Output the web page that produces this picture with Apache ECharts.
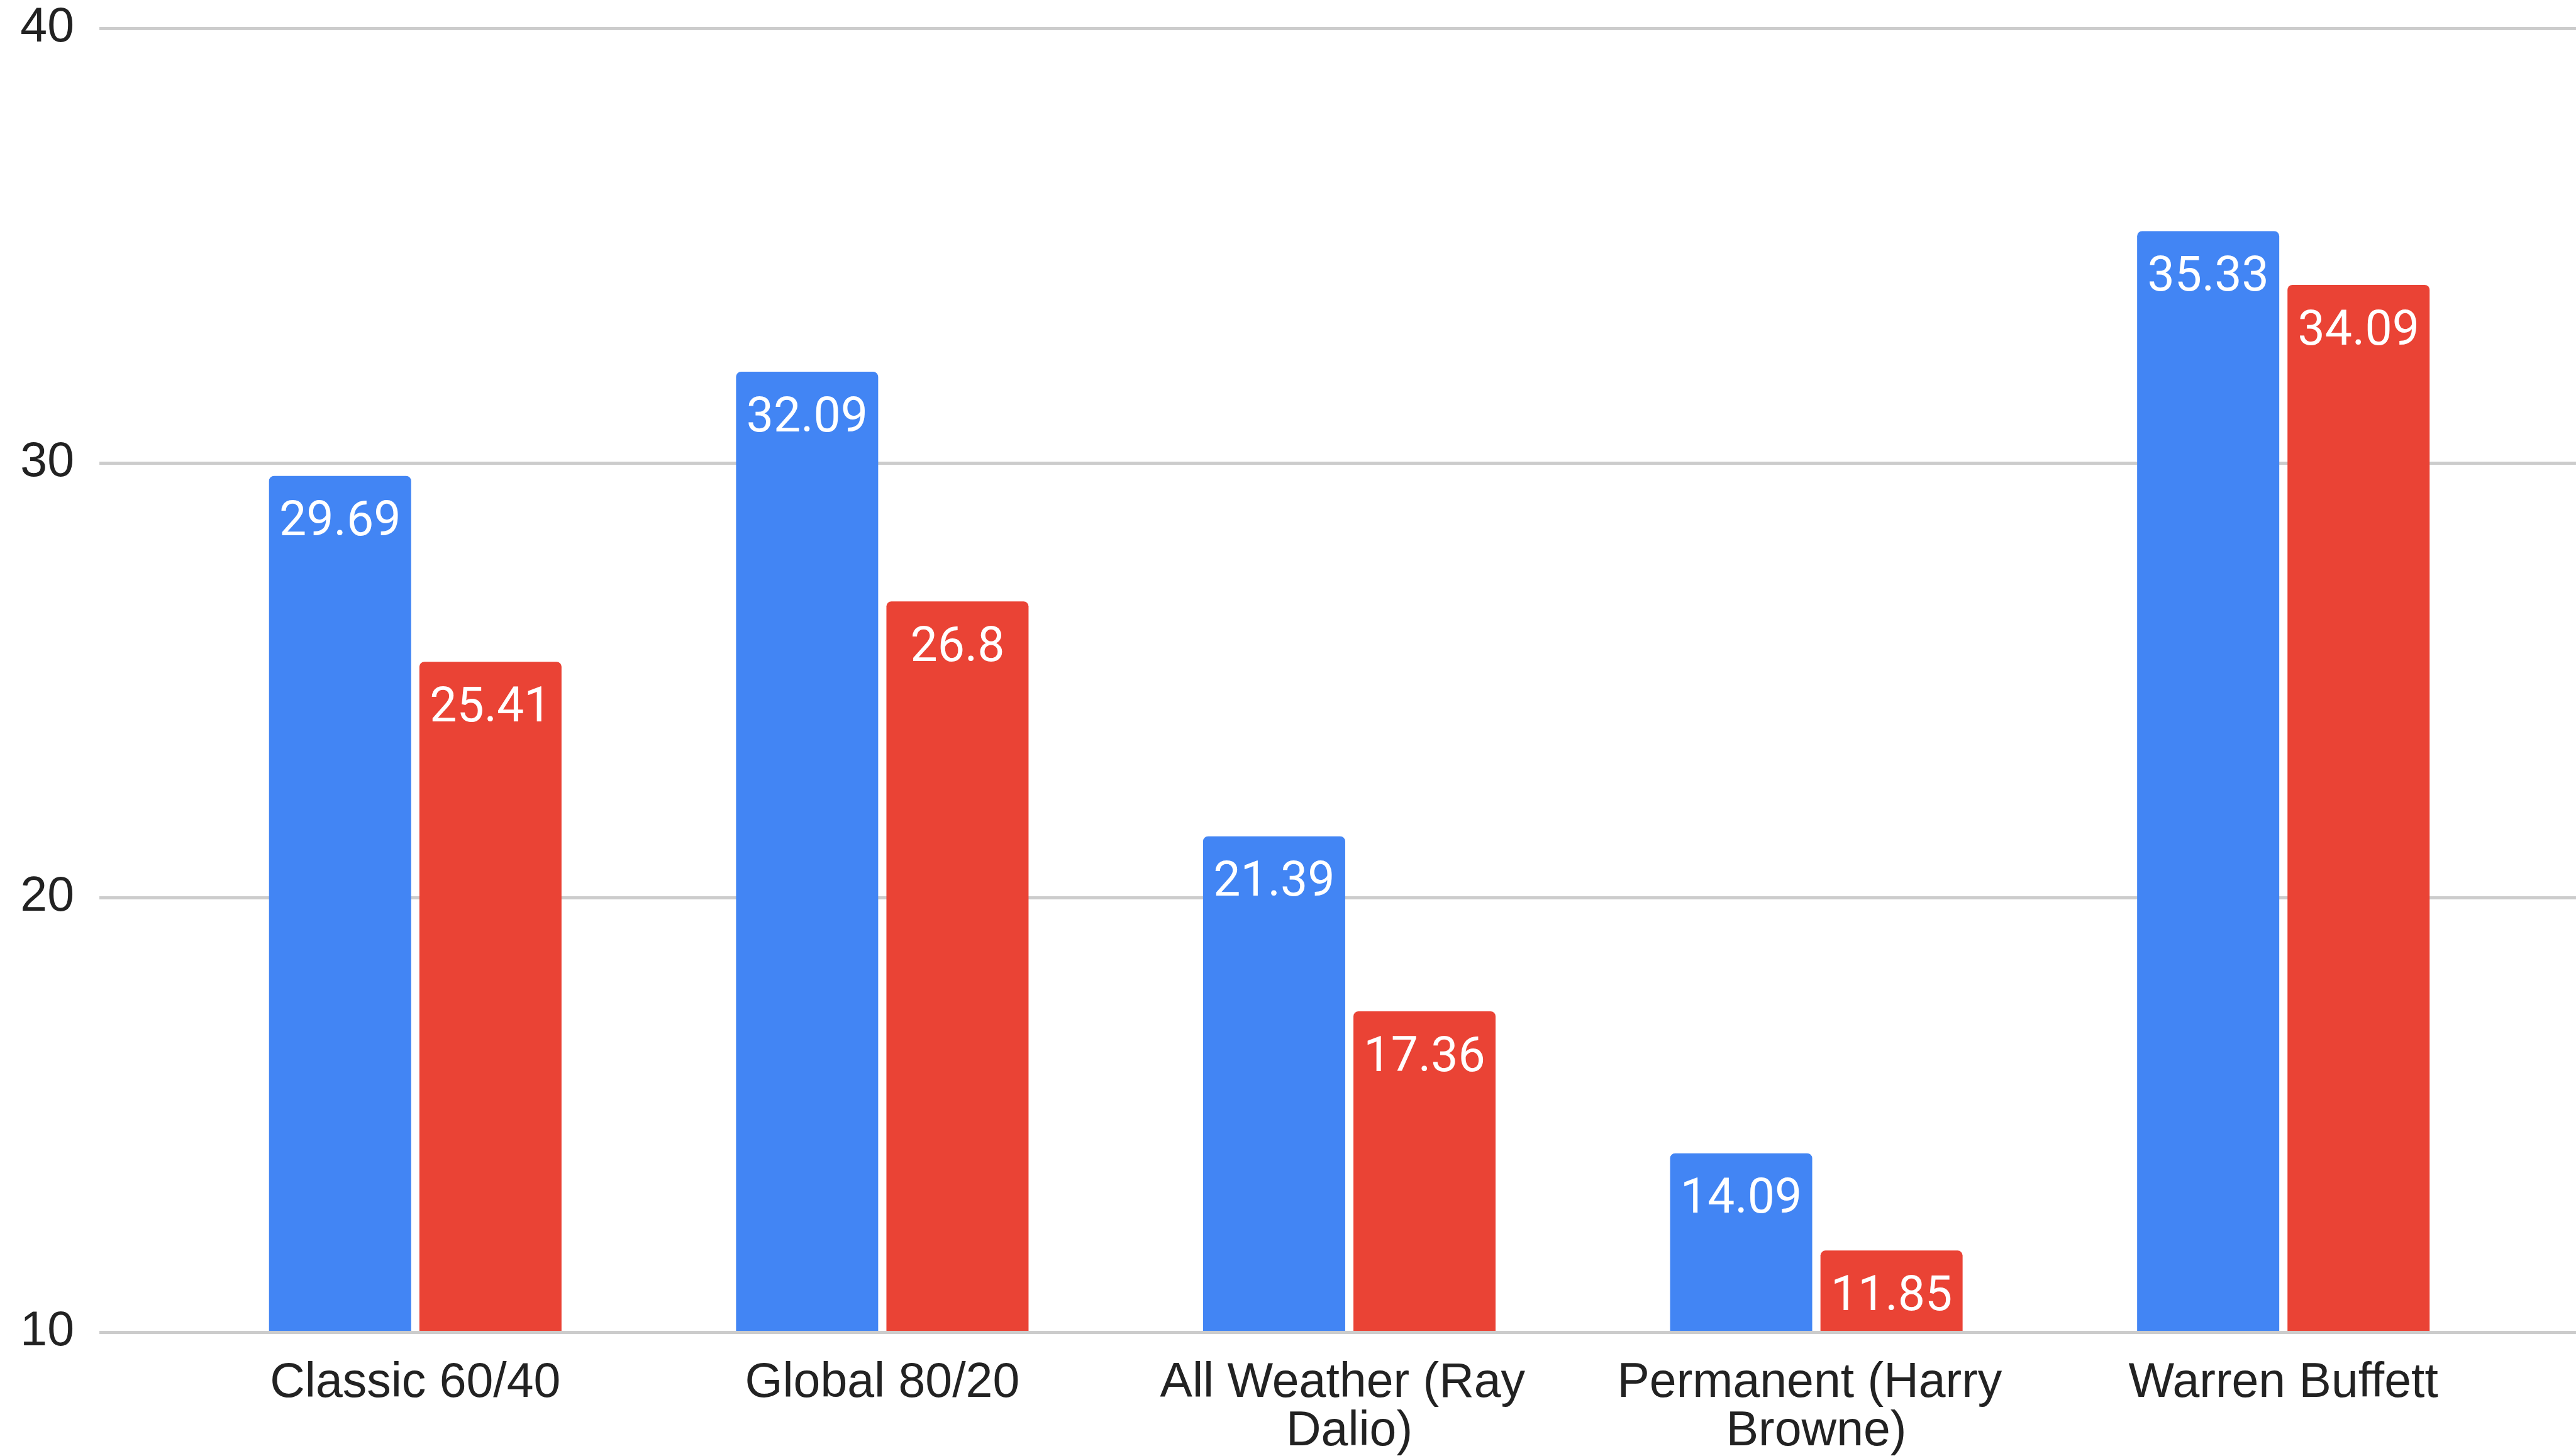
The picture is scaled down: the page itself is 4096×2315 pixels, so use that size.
<!DOCTYPE html>
<html>
<head>
<meta charset="utf-8">
<script src="https://cdn.jsdelivr.net/npm/echarts@6/dist/echarts.min.js"></script>
<style>
  html, body { margin: 0; padding: 0; background: #fff; }
  #chart { width: 4096px; height: 2315px; }
</style>
</head>
<body>
<div id="chart"></div>
<script>
// portfolio names along the bottom
var categories = ['Classic 60/40', 'Global 80/20', 'All Weather (Ray Dalio)', 'Permanent (Harry Browne)', 'Warren Buffett']
// blue and red series
var seriesA = [29.69, 32.09, 21.39, 14.09, 35.33]
var seriesB = [25.41, 26.8, 17.36, 11.85, 34.09]
// value axis ticks
var yTicks = [10, 20, 30, 40]

var axisFont = '"Liberation Sans", Arial, sans-serif'
var labelFont = 'Roboto, "Noto Sans", sans-serif'

var gridTop = 45
var gridBottom = 197

var barLabel = {
  show: true,
  position: 'insideTop',
  distance: 37,
  color: '#ffffff',
  fontFamily: labelFont,
  fontSize: 77
}

var option = {
  animation: false,
  backgroundColor: '#ffffff',
  grid: [
    // wide grid that carries the gridlines and y labels
    { left: 158, right: 0, top: gridTop, bottom: gridBottom },
    // narrower grid for the category bands
    { left: 289, width: 3713, top: gridTop, bottom: gridBottom }
  ],
  xAxis: [
    { type: 'value', gridIndex: 0, show: false, min: 0, max: 1 },
    {
      type: 'category',
      gridIndex: 1,
      data: categories,
      axisLine: { show: false },
      axisTick: { show: false },
      axisLabel: {
        color: '#222222',
        fontFamily: axisFont,
        fontSize: 77,
        lineHeight: 77,
        margin: 45,
        width: 700,
        overflow: 'break',
        interval: 0
      }
    }
  ],
  yAxis: [
    {
      type: 'value',
      gridIndex: 0,
      min: yTicks[0],
      max: yTicks[yTicks.length - 1],
      interval: 10,
      axisLine: { show: false },
      axisTick: { show: false },
      axisLabel: {
        color: '#222222',
        fontFamily: axisFont,
        fontSize: 77,
        margin: 40
      },
      splitLine: { lineStyle: { color: '#cccccc', width: 5 } }
    },
    {
      type: 'value',
      gridIndex: 1,
      min: yTicks[0],
      max: yTicks[yTicks.length - 1],
      interval: 10,
      show: false,
      splitLine: { show: false }
    }
  ],
  series: [
    {
      type: 'bar',
      xAxisIndex: 1,
      yAxisIndex: 1,
      data: seriesA,
      barWidth: 226,
      barGap: '5.8%',
      itemStyle: { color: '#4285F4', borderRadius: [8, 8, 0, 0] },
      label: barLabel
    },
    {
      type: 'bar',
      xAxisIndex: 1,
      yAxisIndex: 1,
      data: seriesB,
      barWidth: 226,
      barGap: '5.8%',
      itemStyle: { color: '#EA4335', borderRadius: [8, 8, 0, 0] },
      label: barLabel
    }
  ]
}

var myChart = echarts.init(document.getElementById('chart'))
myChart.setOption(option)
</script>
</body>
</html>
